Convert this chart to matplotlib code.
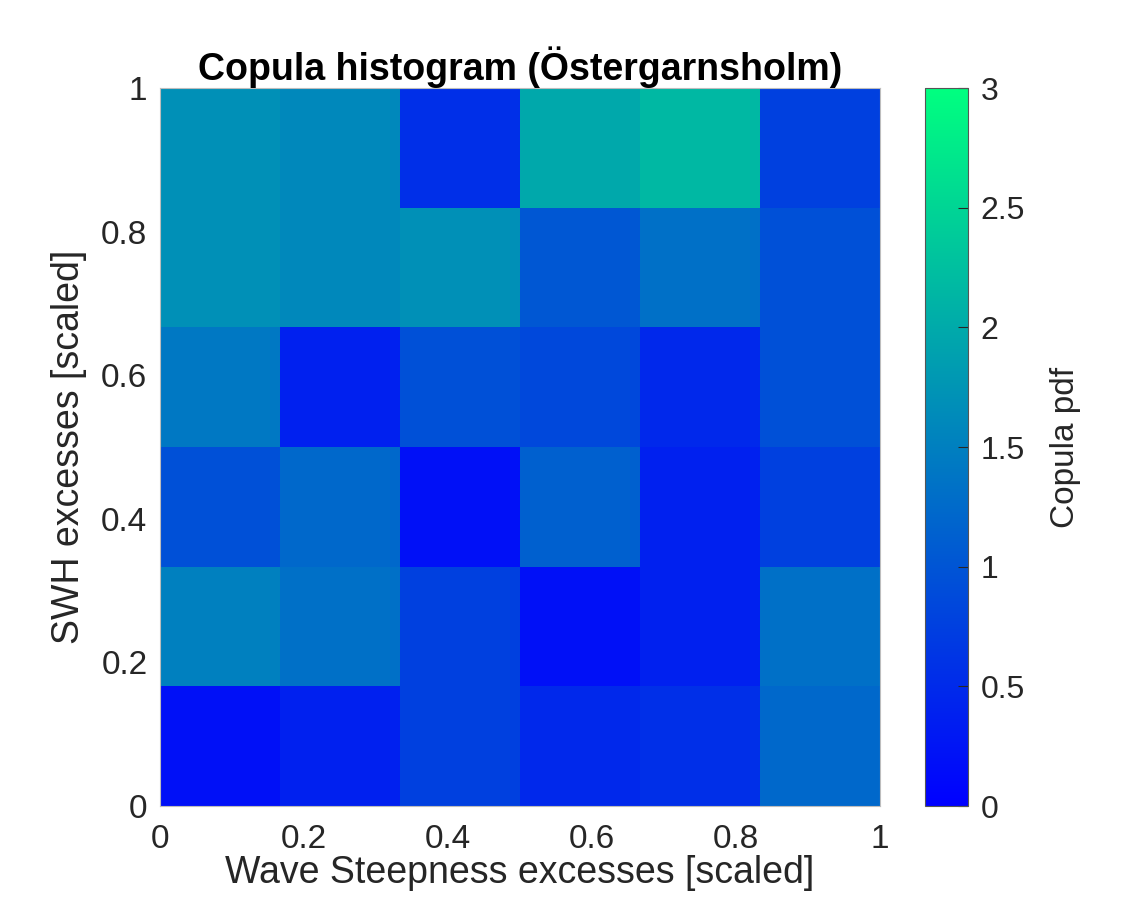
import numpy as np
import matplotlib
matplotlib.use("Agg")
import matplotlib.pyplot as plt

plt.rcParams['font.family'] = ['Liberation Sans', 'DejaVu Sans']

x_edges = [0, 1/6, 2/6, 3/6, 4/6, 5/6, 1]
y_edges = [0, 1/6, 2/6, 3/6, 4/6, 5/6, 1]

# rows from bottom (SWH 0-1/6) to top (5/6-1); columns wave steepness bins
row0 = [0.19, 0.38, 0.75, 0.47, 0.56, 1.22]
row1 = [1.50, 1.32, 0.75, 0.19, 0.38, 1.32]
row2 = [0.94, 1.22, 0.19, 1.13, 0.38, 0.75]
row3 = [1.41, 0.38, 0.94, 0.85, 0.47, 0.94]
row4 = [1.69, 1.60, 1.69, 1.03, 1.32, 0.94]
row5 = [1.69, 1.60, 0.56, 1.98, 2.16, 0.75]

ticks = [0, 0.2, 0.4, 0.6, 0.8, 1]
tick_labels = ['0', '0.2', '0.4', '0.6', '0.8', '1']
cb_ticks = [0, 0.5, 1, 1.5, 2, 2.5, 3]
cb_labels = ['0', '0.5', '1', '1.5', '2', '2.5', '3']

C = np.array([row0, row1, row2, row3, row4, row5])

fig = plt.figure(figsize=(11.21, 8.98), dpi=100)
ax = fig.add_axes([0.1427, 0.1024, 0.6423, 0.7996])
cax = fig.add_axes([0.8252, 0.1024, 0.0384, 0.7996])

mesh = ax.pcolormesh(x_edges, y_edges, C, cmap='winter', vmin=0, vmax=3, shading='flat')
ax.set_xlim(0, 1)
ax.set_ylim(0, 1)
ax.set_xticks(ticks)
ax.set_xticklabels(tick_labels)
ax.set_yticks(ticks)
ax.set_yticklabels(tick_labels)
ax.tick_params(direction='in', length=0, labelsize=24, colors='#262626')
ax.tick_params(axis='x', pad=13)
ax.tick_params(axis='y', pad=9)
for s in ax.spines.values():
    s.set_color('#bdbdbd')
    s.set_linewidth(0.8)

ax.set_title('Copula histogram (Östergarnsholm)', fontsize=27, fontweight='bold', pad=5)
ax.set_xlabel('Wave Steepness excesses [scaled]', fontsize=27, color='#262626', labelpad=0)
ax.set_ylabel('SWH excesses [scaled]', fontsize=27, color='#262626', labelpad=10)

cb = fig.colorbar(mesh, cax=cax, ticks=cb_ticks)
cb.set_ticklabels(cb_labels)
cb.ax.tick_params(direction='in', length=7, labelsize=23, colors='#262626', pad=9)
cb.outline.set_edgecolor('#555555')
cb.outline.set_linewidth(0.8)
cb.set_label('Copula pdf', fontsize=24, color='#262626', labelpad=18)

fig.savefig('out.png', dpi=100)
